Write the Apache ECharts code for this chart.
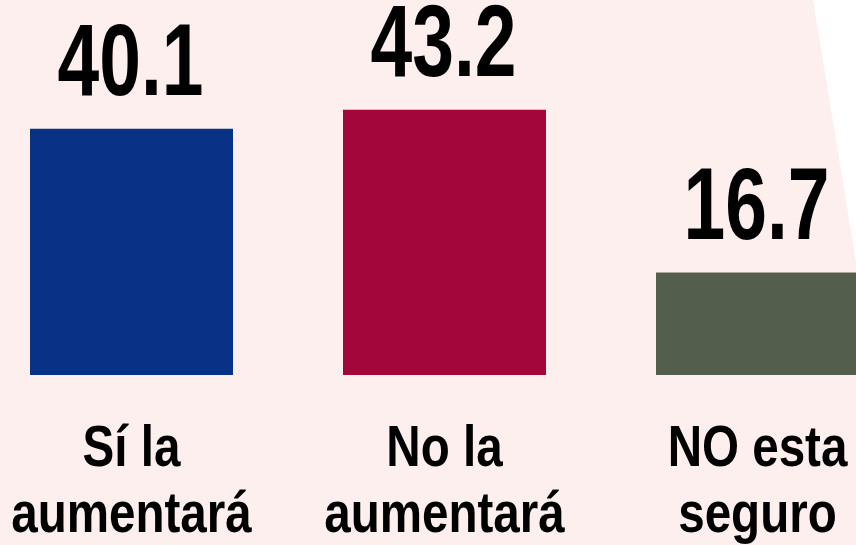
<!DOCTYPE html>
<html>
<head>
<meta charset="utf-8">
<script src="https://cdn.jsdelivr.net/npm/echarts@6/dist/echarts.min.js"></script>
<style>
html,body{margin:0;padding:0;background:#FCEFEE;}
#chart{width:856px;height:545px;}
</style>
</head>
<body>
<div id="chart"></div>
<script>
const categories = ['Sí la\naumentará', 'No la\naumentará', 'NO esta\nseguro'];
const values = [40.1, 43.2, 16.7];
const barColors = ['#093185', '#A3063A', '#545E4C'];

const FONT = "'Liberation Sans', Arial, sans-serif";
const chart = echarts.init(document.getElementById('chart'));

function renderLabels(params, api) {
  const i = params.dataIndex;
  const v = api.value(1);
  const top = api.coord([i, v]);
  const base = api.coord([i, 0]);
  const children = [{
    type: 'text',
    x: top[0] - 1,
    y: top[1] - 62,
    scaleX: 0.735,
    style: {
      text: v.toFixed(1),
      font: 'bold 102px ' + FONT,
      fill: '#000',
      align: 'center',
      verticalAlign: 'middle'
    }
  }];
  categories[i].split('\n').forEach((line, k) => {
    children.push({
      type: 'text',
      x: base[0],
      y: base[1] + 75 + k * 66,
      scaleX: 0.82,
      style: {
        text: line,
        font: 'bold 58px ' + FONT,
        fill: '#000',
        align: 'center',
        verticalAlign: 'middle'
      }
    });
  });
  return { type: 'group', children };
}

chart.setOption({
  backgroundColor: '#FCEFEE',
  animation: false,
  graphic: [{
    type: 'polygon',
    z: 0,
    shape: { points: [[813, 0], [856, 0], [856, 262]] },
    style: { fill: '#FFFFFF' }
  }],
  grid: { left: -25, width: 939, top: 68, height: 307, containLabel: false, outerBoundsMode: 'none' },
  xAxis: {
    type: 'category',
    data: categories,
    axisLine: { show: false },
    axisTick: { show: false },
    axisLabel: { show: false }
  },
  yAxis: {
    type: 'value',
    min: 0,
    max: 50,
    show: false,
    splitLine: { show: false }
  },
  series: [{
    type: 'bar',
    barWidth: 203,
    data: values.map((v, i) => ({ value: v, itemStyle: { color: barColors[i] } }))
  }, {
    type: 'custom',
    clip: false,
    silent: true,
    data: values.map((v, i) => [i, v]),
    renderItem: renderLabels
  }]
});
</script>
</body>
</html>
